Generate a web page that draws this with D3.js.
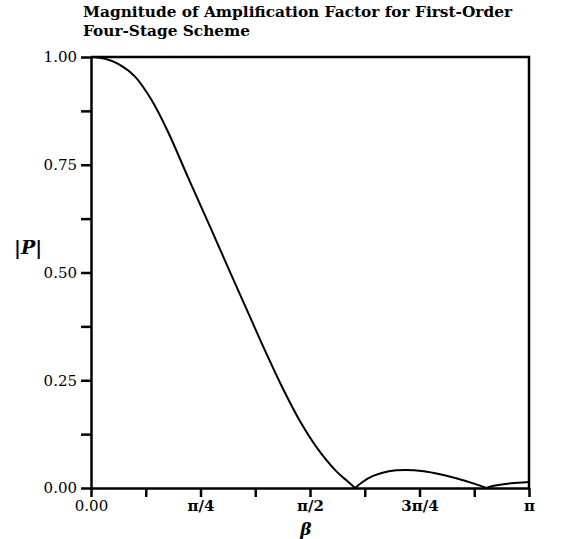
<!DOCTYPE html>
<html>
<head>
<meta charset="utf-8">
<script src="https://cdn.jsdelivr.net/npm/d3@7"></script>
<style>
  body { margin: 0; background: #fff; }
  text { font-family: "DejaVu Serif", "Liberation Serif", serif; fill: #000; }
</style>
</head>
<body>
<svg id="chart" width="577" height="539"></svg>
<script>
// beta in units of pi
const betaOverPi = [0, 0.032, 0.062, 0.10, 0.139, 0.176, 0.221, 0.272, 0.317, 0.363,
  0.40, 0.438, 0.48, 0.516, 0.557, 0.585, 0.603, 0.62, 0.644, 0.68, 0.717, 0.76,
  0.797, 0.84, 0.872, 0.89, 0.903, 0.92, 0.95, 0.975, 1.0];
const magP = [1.0, 0.996, 0.984, 0.955, 0.899, 0.826, 0.722, 0.606, 0.502, 0.397,
  0.313, 0.231, 0.150, 0.093, 0.042, 0.016, 0.0, 0.014, 0.028, 0.039, 0.042, 0.039,
  0.032, 0.021, 0.011, 0.005, 0.0, 0.005, 0.010, 0.012, 0.014];
// zeros of |P| where the curve has a cusp
const cuspBeta = [0.603, 0.903];

const xTickValues = [0, 0.25, 0.5, 0.75, 1];
const xTickLabels = ["0.00", "\u03c0/4", "\u03c0/2", "3\u03c0/4", "\u03c0"];
const xMinorTicks = [0.125, 0.375, 0.625, 0.875];
const yTickValues = [0, 0.25, 0.5, 0.75, 1];
const yMinorTicks = [0.125, 0.375, 0.625, 0.875];
const titleLines = ["Magnitude of Amplification Factor for First-Order", "Four-Stage Scheme"];

const margin = { top: 57, right: 48, bottom: 51, left: 91 };
const width = 577, height = 539;
const innerW = width - margin.left - margin.right;
const innerH = height - margin.top - margin.bottom;

const svg = d3.select("#chart");
const g = svg.append("g").attr("transform", `translate(${margin.left},${margin.top})`);

const x = d3.scaleLinear().domain([0, 1]).range([0, innerW]);
const y = d3.scaleLinear().domain([0, 1]).range([innerH, 0]);

// title
svg.selectAll(".title")
  .data(titleLines)
  .enter()
  .append("text")
  .attr("class", "title")
  .attr("x", 83)
  .attr("y", (d, i) => 17 + i * 19)
  .attr("textLength", (d, i) => i === 0 ? 429 : 167)
  .attr("lengthAdjust", "spacingAndGlyphs")
  .style("font-size", "15px")
  .style("font-weight", "bold")
  .text(d => d);

// frame (top and right)
g.append("path")
  .attr("d", `M0,${y(1)}H${x(1)}V${y(0)}`)
  .attr("fill", "none")
  .attr("stroke", "#000")
  .attr("stroke-width", 2.5);

// x axis
const xAxis = g.append("g")
  .attr("transform", `translate(0,${innerH})`)
  .call(d3.axisBottom(x)
    .tickValues(xTickValues.concat(xMinorTicks))
    .tickSize(9)
    .tickSizeOuter(0)
    .tickFormat(d => {
      const i = xTickValues.indexOf(d);
      return i >= 0 ? xTickLabels[i] : "";
    }));

// y axis
const yAxis = g.append("g")
  .call(d3.axisLeft(y)
    .tickValues(yTickValues.concat(yMinorTicks))
    .tickSize(10)
    .tickSizeOuter(0)
    .tickFormat(d => yTickValues.includes(d) ? d3.format(".2f")(d) : ""));

[xAxis, yAxis].forEach(ax => {
  ax.select(".domain").attr("stroke-width", 2.5);
  ax.selectAll(".tick line").attr("stroke-width", 2.5);
  ax.selectAll(".tick text")
    .style("font-family", "'DejaVu Serif', 'Liberation Serif', serif")
    .style("font-size", "15px");
});

xAxis.selectAll(".tick text")
  .attr("y", 12)
  .style("font-weight", d => d === 0 ? "normal" : "bold");
yAxis.selectAll(".tick text").attr("x", -14);

// axis titles
svg.append("text")
  .attr("x", 306)
  .attr("y", 535)
  .attr("text-anchor", "middle")
  .style("font-size", "17px")
  .style("font-style", "italic")
  .style("font-weight", "bold")
  .text("\u03b2");

svg.append("text")
  .attr("x", 14)
  .attr("y", 254)
  .style("font-size", "19px")
  .style("font-weight", "bold")
  .html('|<tspan style="font-style: italic">P</tspan>|');

// curve, drawn in pieces between the cusps
const pts = betaOverPi.map((b, i) => [b, magP[i]]);
const bounds = [0].concat(cuspBeta, [1]);
const segments = d3.pairs(bounds).map(([a, b]) => pts.filter(p => p[0] >= a && p[0] <= b));

const line = d3.line()
  .x(d => x(d[0]))
  .y(d => y(d[1]))
  .curve(d3.curveCatmullRom.alpha(0.5));

g.selectAll(".curve")
  .data(segments)
  .enter()
  .append("path")
  .attr("class", "curve")
  .attr("d", line)
  .attr("fill", "none")
  .attr("stroke", "#000")
  .attr("stroke-width", 2)
  .attr("stroke-linejoin", "round");
</script>
</body>
</html>
